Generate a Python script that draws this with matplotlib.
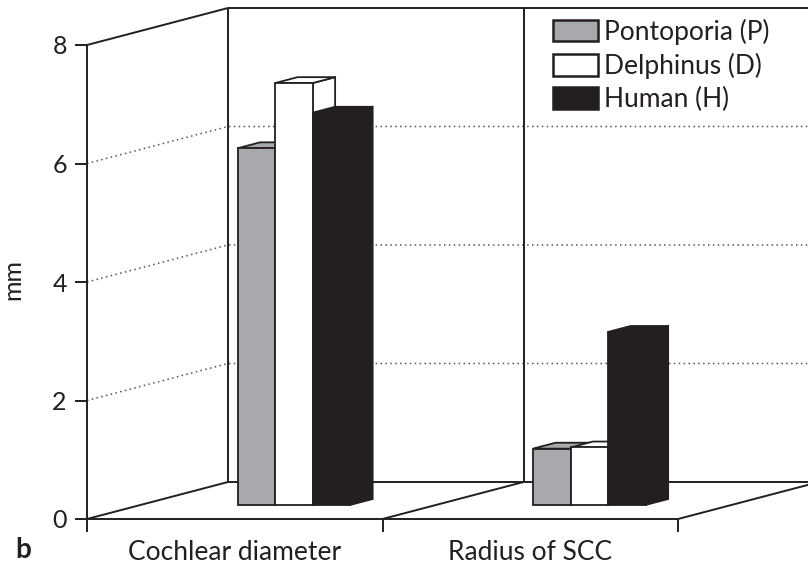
import matplotlib
matplotlib.use("Agg")
import matplotlib.pyplot as plt
from matplotlib.patches import Patch, Polygon
import numpy as np

plt.rcParams['font.family'] = ['Lato', 'DejaVu Sans']

categories = ["Cochlear diameter", "Radius of SCC"]
series_names = ["Pontoporia (P)", "Delphinus (D)", "Human (H)"]
pontoporia = [6.02, 0.95]
delphinus = [7.12, 0.97]
human = [6.62, 2.92]
yticks = [0, 2, 4, 6, 8]
gridlevels = [2, 4, 6]
colors = ["#a7a9ac", "#ffffff", "#231f20"]

series = [pontoporia, delphinus, human]

W, H = 808, 564
fig = plt.figure(figsize=(W / 100, H / 100), dpi=100)
x0, x1, ytop, ybot = 87, 678, 45, 519
ax = fig.add_axes([x0 / W, (H - ybot) / H, (x1 - x0) / W, (ybot - ytop) / H])
ncat = len(categories)
ymax = yticks[-1]
ax.set_xlim(0, ncat)
ax.set_ylim(0, ymax)

# oblique depth (full depth) in data units
px_x = (x1 - x0) / ncat
px_y = (ybot - ytop) / ymax
DX = 141 / px_x
DY = 37 / px_y

line_col = "#231f20"
txt_col = "#231f20"
lw = 1.4
fs = 19

for s in ["top", "right"]:
    ax.spines[s].set_visible(False)
for s in ["left", "bottom"]:
    ax.spines[s].set_color(line_col)
    ax.spines[s].set_linewidth(lw)

ax.set_yticks(yticks)
ax.set_yticklabels([str(t) for t in yticks], fontsize=18, color=txt_col)
ax.tick_params(axis="y", direction="out", length=8.5, width=lw, pad=6, color=line_col)
ax.set_xticks(np.arange(ncat) + 0.5)
ax.set_xticklabels(categories, fontsize=fs, color=txt_col)
ax.tick_params(axis="x", which="major", length=0, pad=15)
ax.set_xticks(np.arange(ncat + 1), minor=True)
ax.tick_params(axis="x", which="minor", direction="out", length=9, width=lw, color=line_col)
ax.set_ylabel("mm", fontsize=18, color=txt_col)
ax.yaxis.set_label_coords((24 - x0) / (x1 - x0), (ybot - 280) / (ybot - ytop))
ax.patch.set_alpha(0)

kw = dict(color=line_col, lw=lw, clip_on=False, solid_capstyle="butt")
# left wall top edge
ax.plot([0, DX], [ymax, ymax + DY], **kw)
# back wall top edge
ax.plot([DX, ncat + DX + 0.2], [ymax + DY, ymax + DY], **kw)
# back wall verticals
for i in range(ncat + 1):
    ax.plot([i + DX, i + DX], [DY, ymax + DY], **kw)
# floor back edge and diagonals
ax.plot([DX, ncat + DX + 0.2], [DY, DY], **kw)
for i in range(ncat + 1):
    ax.plot([i, i + DX], [0, DY], **kw)
# gridlines
for v in gridlevels:
    ax.plot([0, DX, ncat + DX + 0.2], [v, v + DY, v + DY], color="#555555",
            lw=1.1, ls=(0, (1, 2.2)), clip_on=False, zorder=1)

# bars
bw = 0.127
lead = 0.328
d0 = 0.38
dd = 0.16
ox0, oy0 = d0 * DX, d0 * DY
ox1, oy1 = dd * DX, dd * DY
for i in range(ncat):
    for j, vals in enumerate(series):
        v = vals[i]
        xl = i + lead + j * bw + ox0
        xr = xl + bw
        b = oy0
        t = v + oy0
        pk = dict(facecolor=colors[j], edgecolor=line_col, lw=1.3, clip_on=False,
                  joinstyle="miter", zorder=3)
        ax.add_patch(Polygon([(xr, b), (xr + ox1, b + oy1), (xr + ox1, t + oy1), (xr, t)], **pk))
        ax.add_patch(Polygon([(xl, t), (xr, t), (xr + ox1, t + oy1), (xl + ox1, t + oy1)], **pk))
        ax.add_patch(Polygon([(xl, b), (xr, b), (xr, t), (xl, t)], **pk))

handles = [Patch(facecolor=c, edgecolor=line_col, lw=1.8) for c in colors]
leg = fig.legend(handles, series_names, loc="upper left", bbox_to_anchor=(553 / W, 1 - 19 / H),
                 frameon=False, fontsize=fs, handlelength=1.7, handleheight=0.85,
                 handletextpad=0.22, labelspacing=0.3, borderpad=0, borderaxespad=0)
for t in leg.get_texts():
    t.set_color(txt_col)

fig.text(23 / W, 1 - 550 / H, "b", fontsize=20, fontweight="bold", ha="center", va="center",
         color=txt_col)

fig.savefig("out.png", dpi=100)
